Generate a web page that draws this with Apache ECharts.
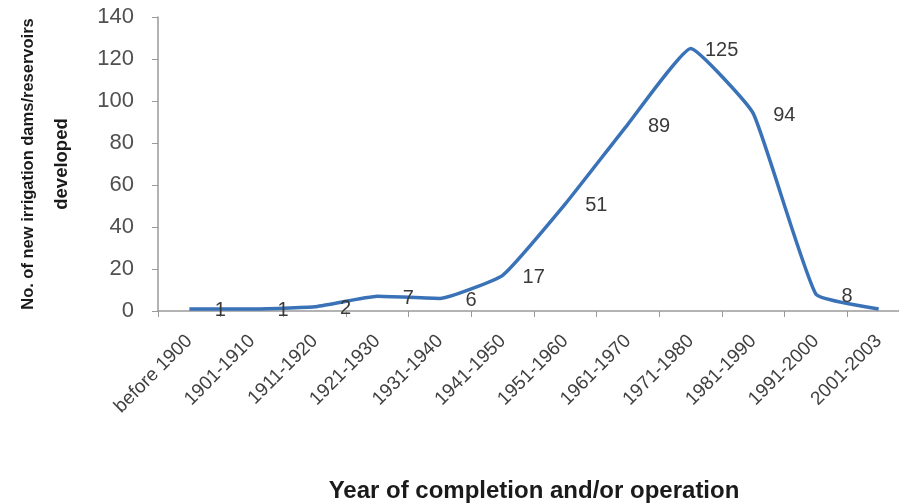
<!DOCTYPE html>
<html>
<head>
<meta charset="utf-8">
<script src="https://cdn.jsdelivr.net/npm/echarts@6/dist/echarts.min.js"></script>
<style>
html,body{margin:0;padding:0;background:#fff;}
#chart{width:899px;height:503px;}
</style>
</head>
<body>
<div id="chart"></div>
<script>
const categories = ["before 1900","1901-1910","1911-1920","1921-1930","1931-1940","1941-1950","1951-1960","1961-1970","1971-1980","1981-1990","1991-2000","2001-2003"];
const values = [1,1,2,7,6,17,51,89,125,94,8,1];
const yTicks = {min:0, max:140, interval:20};
const xTitle = "Year of completion and/or operation";
const yTitleLine1 = "No. of new irrigation dams/reservoirs";
const yTitleLine2 = "developed";

const chart = echarts.init(document.getElementById('chart'));
const font = "Liberation Sans";
chart.setOption({
  animation:false,
  backgroundColor:'#fff',
  grid:{left:158, right:-11, top:17, bottom:192, containLabel:false, outerBoundsMode:'none'},
  xAxis:{
    type:'category',
    data:categories,
    boundaryGap:true,
    axisLine:{show:true, lineStyle:{color:'#9a9a9a', width:1.5}},
    axisTick:{show:true, length:6, lineStyle:{color:'#9a9a9a'}},
    axisLabel:{interval:0, rotate:45, margin:27, fontSize:19, color:'#404040', fontFamily:font},
    name:xTitle,
    nameLocation:'middle',
    nameGap:168,
    nameTextStyle:{fontSize:24, fontWeight:'bold', color:'#1a1a1a', fontFamily:font}
  },
  yAxis:{
    type:'value',
    min:yTicks.min, max:yTicks.max, interval:yTicks.interval,
    axisLine:{show:true, lineStyle:{color:'#9a9a9a', width:1.5}},
    axisTick:{show:true, length:6, lineStyle:{color:'#9a9a9a'}},
    splitLine:{show:false},
    axisLabel:{margin:24, fontSize:22, color:'#505050', fontFamily:font},
    name:'{a|' + yTitleLine1 + '}\n{b|' + yTitleLine2 + '}',
    nameLocation:'middle',
    nameRotate:90,
    nameGap:80,
    nameTextStyle:{
      fontWeight:'bold', color:'#1a1a1a', fontFamily:font, align:'center',
      rich:{
        a:{fontSize:16.5, fontWeight:'bold', color:'#1a1a1a', fontFamily:font, lineHeight:33},
        b:{fontSize:18.5, fontWeight:'bold', color:'#1a1a1a', fontFamily:font, lineHeight:33}
      }
    }
  },
  series:[{
    type:'line',
    data:values.map((v,i)=> i===values.length-1 ? {value:v, label:{show:false}} : v),
    smooth:0.12,
    showSymbol:true,
    symbol:'circle',
    symbolSize:0,
    lineStyle:{color:'#3a72b8', width:3.5},
    itemStyle:{color:'#3a72b8'},
    label:{show:true, position:'inside', offset:[31,2], fontSize:20, color:'#3a3a3a', fontFamily:font}
  }]
});
</script>
</body>
</html>
